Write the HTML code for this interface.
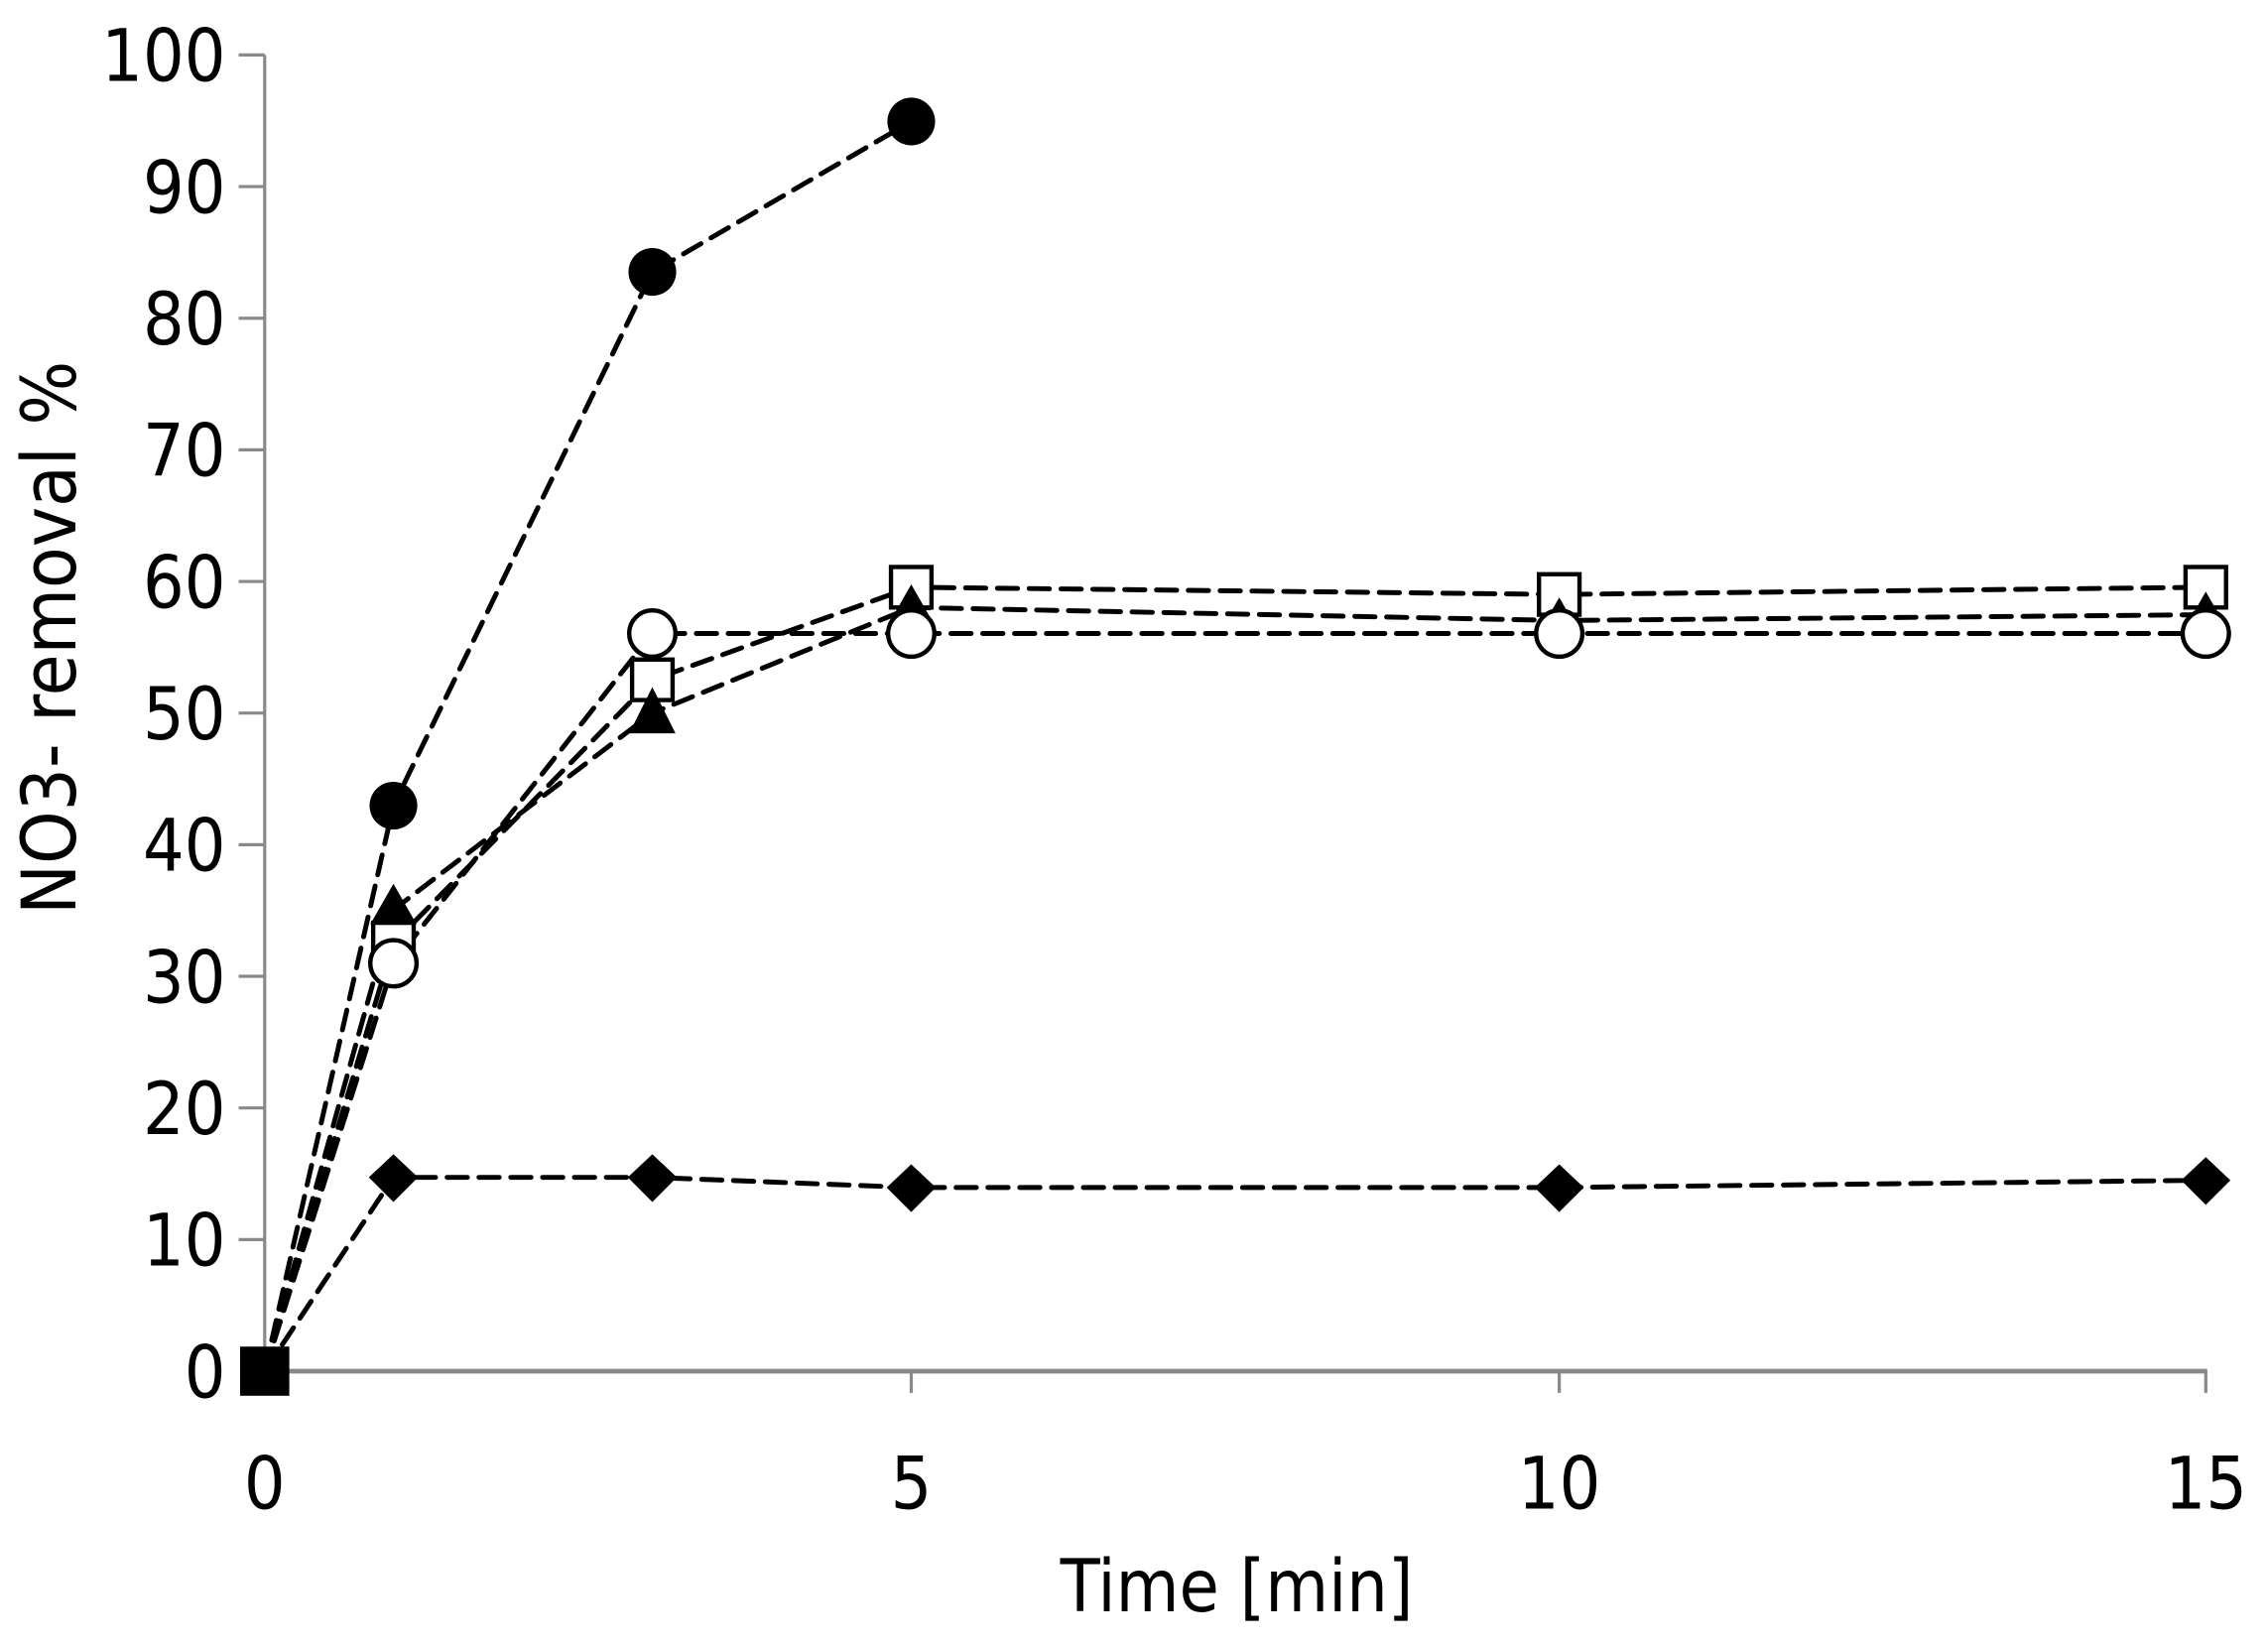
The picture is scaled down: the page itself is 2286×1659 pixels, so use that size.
<!DOCTYPE html>
<html><head><style>html,body{margin:0;padding:0;background:#fff}svg{display:block}</style></head>
<body>
<svg width="2286" height="1659" viewBox="0 0 1568 1138" preserveAspectRatio="none" xmlns="http://www.w3.org/2000/svg" font-family="'DejaVu Sans Condensed','Liberation Sans Narrow','Liberation Sans',sans-serif">
<g stroke="#898989" stroke-width="2.2" fill="none">
<line x1="183" y1="38" x2="183" y2="948"/>
<line x1="183" y1="948" x2="1526" y2="948" stroke-width="3.2"/>
<line x1="165" y1="38" x2="183" y2="38"/><line x1="165" y1="129" x2="183" y2="129"/><line x1="165" y1="220" x2="183" y2="220"/><line x1="165" y1="311" x2="183" y2="311"/><line x1="165" y1="402" x2="183" y2="402"/><line x1="165" y1="493" x2="183" y2="493"/><line x1="165" y1="584" x2="183" y2="584"/><line x1="165" y1="675" x2="183" y2="675"/><line x1="165" y1="766" x2="183" y2="766"/><line x1="165" y1="857" x2="183" y2="857"/>
<line x1="630" y1="948" x2="630" y2="963"/><line x1="1078" y1="948" x2="1078" y2="963"/><line x1="1525" y1="948" x2="1525" y2="963"/>
</g>
<g font-size="50" fill="#000" text-anchor="end">
<text x="156" y="56">100</text><text x="156" y="147">90</text><text x="156" y="238">80</text><text x="156" y="329">70</text><text x="156" y="420">60</text><text x="156" y="511">50</text><text x="156" y="602">40</text><text x="156" y="693">30</text><text x="156" y="784">20</text><text x="156" y="875">10</text><text x="156" y="966">0</text>
</g>
<g font-size="50" fill="#000" text-anchor="middle">
<text x="183" y="1043">0</text><text x="630" y="1043">5</text><text x="1078" y="1043">10</text><text x="1525" y="1043">15</text>
<text x="855" y="1114">Time [min]</text>
<text transform="translate(52,441) rotate(-90)" font-size="52">NO3- removal %</text>
</g>
<g stroke="#000" stroke-width="3.4" fill="none" stroke-dasharray="14,8" stroke-linecap="round">
<polyline points="183,948 272,557 451,188 630,84"/>
<polyline points="183,948 272,652 451,470 630,406 1078,411 1525,406"/>
<polyline points="183,948 272,629 451,493 630,420 1078,429 1525,425"/>
<polyline points="183,948 272,666 451,438 630,438 1078,438 1525,438"/>
<polyline points="183,948 272,814 451,814 630,821 1078,821 1525,816"/>
</g>
<g fill="#000">
<circle cx="272" cy="557" r="16.5"/><circle cx="451" cy="188" r="16.5"/><circle cx="630" cy="84" r="16.5"/>
</g>
<g fill="#fff" stroke="#000" stroke-width="3">
<rect x="258" y="638" width="28" height="28"/><rect x="437" y="456" width="28" height="28"/><rect x="616" y="392" width="28" height="28"/><rect x="1064" y="397" width="28" height="28"/><rect x="1511" y="392" width="28" height="28"/>
</g>
<g fill="#000">
<polygon points="272,611 288,639 256,639"/><polygon points="451,475 467,507 435,507"/><polygon points="630,404 646,432 614,432"/><polygon points="1078,413 1094,441 1062,441"/><polygon points="1525,409 1541,437 1509,437"/>
</g>
<g fill="#fff" stroke="#000" stroke-width="3">
<circle cx="272" cy="666" r="16"/><circle cx="451" cy="438" r="16"/><circle cx="630" cy="438" r="16"/><circle cx="1078" cy="438" r="16"/><circle cx="1525" cy="438" r="16"/>
</g>
<g fill="#000">
<polygon points="272,798 289,814 272,831 255,814"/><polygon points="451,798 468,814 451,831 434,814"/><polygon points="630,805 647,821 630,838 613,821"/><polygon points="1078,805 1095,821 1078,838 1061,821"/><polygon points="1525,800 1542,816 1525,833 1508,816"/>
<rect x="166" y="931" width="34" height="34"/>
</g>
</svg>
</body></html>
